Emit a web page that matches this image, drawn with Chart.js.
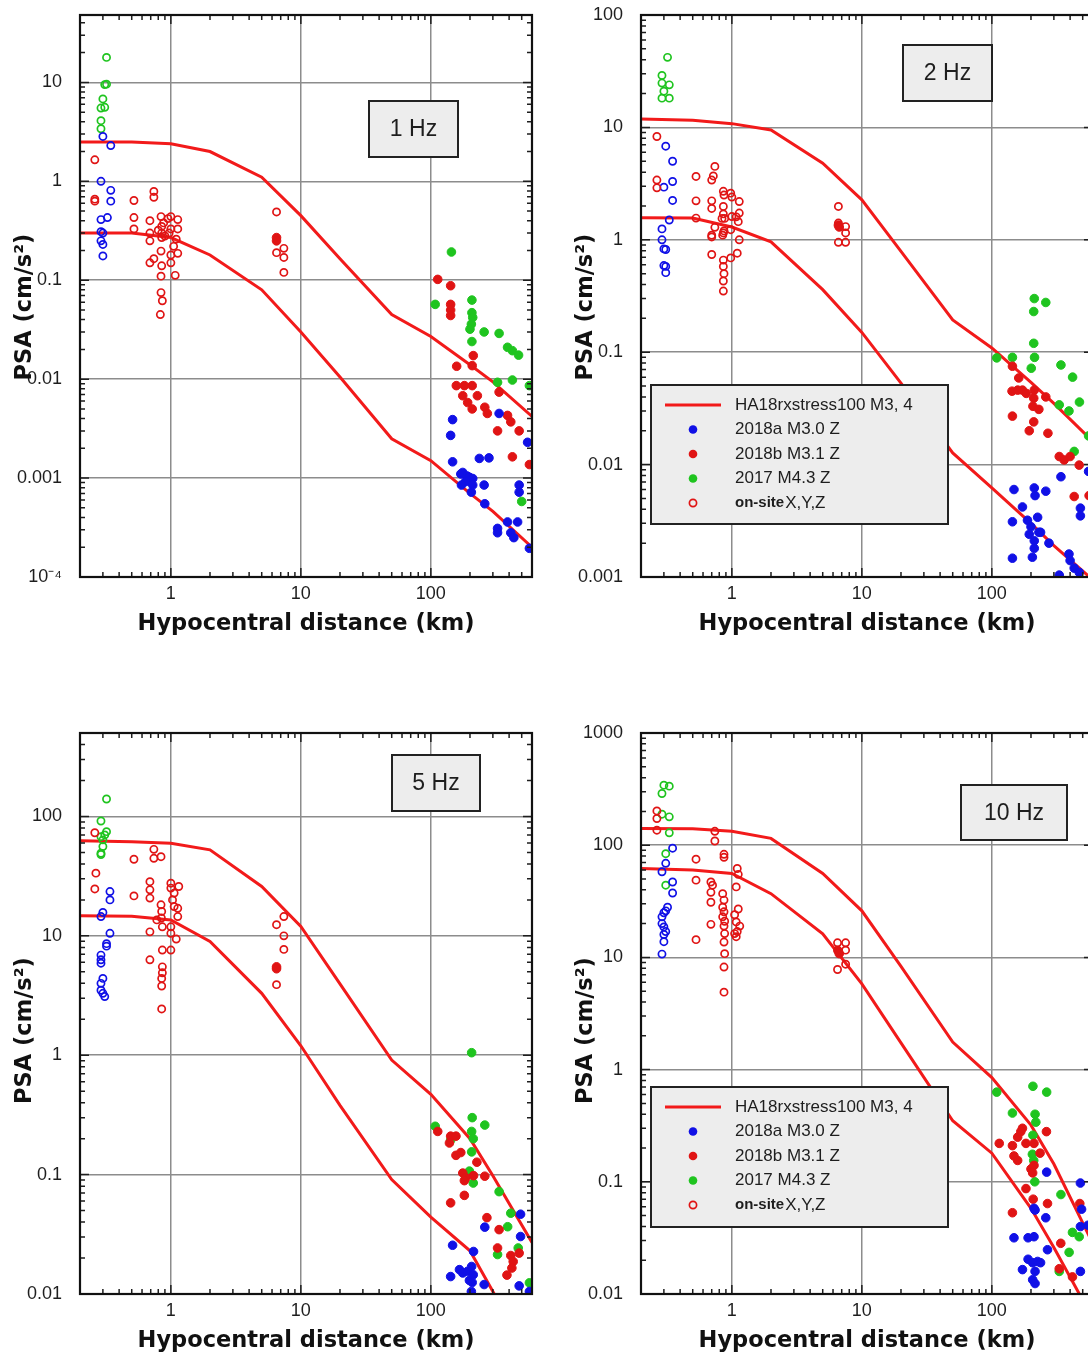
<!DOCTYPE html>
<html>
<head>
<meta charset="utf-8">
<title>PSA vs hypocentral distance</title>
<script src="https://cdn.jsdelivr.net/npm/chart.js@4.4.0/dist/chart.umd.min.js"></script>
<style>
  html, body { margin: 0; padding: 0; background: #fff; width: 1088px; height: 1357px; overflow: hidden; position: relative; }
  canvas { position: absolute; display: block; }
</style>
</head>
<body>
<canvas id="p1Hz" width="560" height="650" style="left:0px;top:0px;width:560px;height:650px"></canvas>
<canvas id="p2Hz" width="560" height="650" style="left:561px;top:0px;width:560px;height:650px"></canvas>
<canvas id="p5Hz" width="560" height="639" style="left:0px;top:718px;width:560px;height:639px"></canvas>
<canvas id="p10Hz" width="560" height="639" style="left:561px;top:718px;width:560px;height:639px"></canvas>
<script>
// ---------- shared axis data ----------
const modelDist = [0.2, 0.5, 1, 2, 5, 10, 20, 50, 100, 200, 300, 600];
const xTickValues = [1, 10, 100];
const xTickLabels = ['1', '10', '100'];

// ---------- 1 Hz ----------
const yTicks1Hz = [1e-4, 1e-3, 1e-2, 1e-1, 1, 10];
const yLabels1Hz = ['10\u207B\u2074', '0.001', '0.01', '0.1', '1', '10'];
const model1HzM4 = [2.5, 2.5, 2.4, 2.0, 1.1, 0.45, 0.165, 0.045, 0.027, 0.014, 0.0094, 0.0042];
const model1HzM3 = [0.3, 0.3, 0.27, 0.18, 0.08, 0.03, 0.0105, 0.0025, 0.0015, 0.0007, 0.00046, 0.0002];
const onsite1HzGreen = [[0.32,17.9],[0.32,9.6],[0.31,9.5],[0.30,6.8],[0.29,5.5],[0.31,5.6],[0.29,4.1],[0.29,3.4]];
const onsite1HzBlue = [[0.30,2.84],[0.345,2.3],[0.29,1.0],[0.345,0.81],[0.345,0.63],[0.325,0.43],[0.29,0.41],[0.29,0.31],[0.30,0.30],[0.29,0.25],[0.30,0.23],[0.30,0.176]];
const onsite1HzRed = [[0.26,1.65],[0.26,0.66],[0.26,0.63],[0.52,0.64],[0.52,0.43],[0.52,0.33],[0.74,0.79],[0.74,0.69],[0.69,0.40],[0.69,0.30],[0.69,0.25],[0.69,0.15],[0.74,0.165],[0.84,0.44],[0.85,0.35],[0.85,0.30],[0.85,0.27],[0.84,0.197],[0.85,0.14],[0.84,0.11],[0.84,0.075],[0.86,0.062],[0.83,0.045],[0.8,0.32],[0.88,0.38],[0.9,0.28],[1.0,0.44],[1.0,0.33],[1.05,0.22],[1.0,0.18],[1.0,0.15],[1.08,0.112],[1.13,0.41],[1.13,0.33],[1.13,0.187],[1.1,0.26],[0.95,0.42],[0.97,0.30],[6.5,0.49],[6.5,0.19],[7.4,0.21],[7.4,0.17],[7.4,0.12]];
const ev2018a1Hz = [[147,0.0039],[142,0.0027],[147,0.00146],[170,0.0011],[176,0.00114],[190,0.00105],[198,0.00102],[210,0.00099],[185,0.00092],[172,0.00085],[210,0.00085],[205,0.00072],[236,0.00158],[280,0.0016],[257,0.00085],[260,0.00055],[335,0.0045],[555,0.0023],[478,0.00085],[478,0.00072],[326,0.00031],[326,0.00028],[389,0.00036],[412,0.00028],[435,0.00025],[465,0.00036],[573,0.000195]];
const ev2018b1Hz = [[6.5,0.27],[6.5,0.25],[113,0.102],[142,0.088],[142,0.057],[142,0.05],[142,0.044],[212,0.0173],[208,0.0137],[158,0.0135],[157,0.0086],[181,0.0086],[208,0.0086],[176,0.0068],[192,0.0058],[208,0.005],[228,0.0068],[260,0.0052],[272,0.0045],[335,0.0074],[389,0.0043],[412,0.0037],[478,0.003],[326,0.003],[424,0.00164],[573,0.00137]];
const ev2017_1Hz = [[144,0.193],[108,0.057],[207,0.063],[207,0.047],[210,0.042],[205,0.036],[200,0.032],[207,0.024],[257,0.030],[335,0.029],[389,0.021],[424,0.0194],[473,0.0175],[326,0.0093],[424,0.0098],[573,0.0086],[500,0.00058]];

// ---------- 2 Hz ----------
const yTicks2Hz = [1e-3, 1e-2, 1e-1, 1, 10, 100];
const yLabels2Hz = ['0.001', '0.01', '0.1', '1', '10', '100'];
const model2HzM4 = [11.9, 11.6, 10.8, 9.5, 4.8, 2.27, 0.79, 0.194, 0.109, 0.054, 0.035, 0.016];
const model2HzM3 = [1.57, 1.56, 1.3, 0.96, 0.36, 0.15, 0.053, 0.0127, 0.0062, 0.003, 0.0019, 0.00094];
const onsite2HzGreen = [[0.32,42],[0.29,29],[0.29,24.8],[0.33,23.9],[0.30,21],[0.29,18.2],[0.33,18.2]];
const onsite2HzBlue = [[0.31,6.8],[0.35,5.0],[0.35,3.3],[0.30,2.94],[0.35,2.24],[0.33,1.5],[0.29,1.25],[0.29,1.0],[0.30,0.83],[0.31,0.82],[0.30,0.59],[0.31,0.58],[0.31,0.51]];
const onsite2HzRed = [[0.265,8.3],[0.265,3.4],[0.265,2.9],[0.53,3.66],[0.53,2.22],[0.53,1.56],[0.74,4.5],[0.72,3.7],[0.70,3.4],[0.70,2.22],[0.70,1.9],[0.70,1.1],[0.70,1.06],[0.70,0.74],[0.74,1.29],[0.86,2.7],[0.87,2.5],[0.86,1.98],[0.86,1.7],[0.88,1.55],[0.84,1.55],[0.86,1.15],[0.87,1.2],[0.85,1.1],[0.86,0.66],[0.86,0.58],[0.87,0.50],[0.86,0.43],[0.86,0.35],[0.98,2.6],[1.0,2.4],[1.0,1.61],[0.98,1.23],[0.98,0.69],[1.08,1.6],[1.14,2.19],[1.14,1.73],[1.12,1.45],[1.14,1.0],[1.1,0.76],[6.6,1.98],[6.6,1.41],[6.6,0.95],[7.5,1.31],[7.5,1.15],[7.5,0.95]];
const ev2018a2Hz = [[148,0.006],[212,0.0062],[215,0.0053],[260,0.0058],[172,0.0042],[144,0.0031],[188,0.0032],[200,0.0028],[225,0.0034],[237,0.0025],[194,0.0024],[212,0.0021],[230,0.0025],[212,0.0018],[275,0.002],[144,0.00147],[205,0.0015],[392,0.0016],[400,0.0014],[430,0.0012],[470,0.0011],[330,0.00104],[340,0.0078],[480,0.0041],[480,0.0035],[555,0.0087]];
const ev2018b2Hz = [[6.6,1.35],[6.7,1.3],[144,0.075],[161,0.059],[143,0.045],[158,0.046],[172,0.046],[184,0.043],[212,0.046],[210,0.039],[260,0.040],[207,0.033],[230,0.031],[144,0.027],[210,0.024],[194,0.020],[270,0.019],[330,0.0118],[360,0.011],[400,0.0118],[470,0.0099],[430,0.0052],[560,0.0053]];
const ev2017_2Hz = [[212,0.30],[260,0.277],[210,0.23],[210,0.12],[213,0.09],[201,0.072],[109,0.089],[144,0.090],[340,0.077],[418,0.06],[472,0.036],[330,0.034],[392,0.030],[430,0.0131],[555,0.018]];

// ---------- 5 Hz ----------
const yTicks5Hz = [0.01, 0.1, 1, 10, 100];
const yLabels5Hz = ['0.01', '0.1', '1', '10', '100'];
const model5HzM4 = [62.7, 61.5, 59.7, 52.5, 25.9, 12, 3.96, 0.91, 0.47, 0.2, 0.098, 0.027];
const model5HzM3 = [14.7, 14.6, 13.6, 8.96, 3.3, 1.2, 0.38, 0.091, 0.044, 0.023, 0.0105, 0.0025];
const onsite5HzGreen = [[0.32,140],[0.29,91.6],[0.32,74.6],[0.29,67.7],[0.30,63.6],[0.31,70],[0.30,56],[0.29,49.2],[0.29,48]];
const onsite5HzBlue = [[0.34,23.5],[0.34,20],[0.30,15.7],[0.29,14.5],[0.34,10.5],[0.32,8.6],[0.32,8.2],[0.29,6.9],[0.29,6.3],[0.29,5.9],[0.30,4.4],[0.29,4.0],[0.29,3.5],[0.30,3.3],[0.31,3.1]];
const onsite5HzRed = [[0.26,73],[0.265,33.5],[0.26,24.7],[0.52,43.8],[0.52,21.6],[0.74,53],[0.74,44.6],[0.84,46],[0.69,28.4],[0.69,24.3],[0.69,20.7],[0.69,10.8],[0.69,6.3],[0.84,18.2],[0.85,16],[0.845,14.1],[0.86,11.9],[0.86,7.6],[1.0,7.6],[0.86,5.5],[0.86,4.9],[0.85,4.4],[0.85,3.8],[0.85,2.44],[0.78,13.6],[1.0,27.6],[1.0,25.1],[1.06,22.8],[1.03,20],[1.06,17.6],[1.15,25.9],[1.13,17],[1.13,14.5],[1.0,11.9],[1.0,10.5],[1.1,9.4],[6.5,12.4],[7.4,14.5],[7.4,10],[7.4,7.7],[6.5,3.9]];
const ev2018a5Hz = [[147,0.0256],[213,0.0227],[260,0.0363],[490,0.0466],[490,0.0303],[142,0.014],[166,0.016],[176,0.015],[192,0.0155],[206,0.017],[212,0.0145],[198,0.013],[208,0.0125],[257,0.012],[205,0.0105],[478,0.0117],[573,0.0105]];
const ev2018b5Hz = [[6.5,5.5],[6.5,5.3],[113,0.23],[142,0.21],[156,0.21],[139,0.184],[156,0.145],[170,0.153],[176,0.103],[186,0.094],[181,0.089],[226,0.127],[213,0.098],[260,0.097],[142,0.058],[181,0.067],[270,0.0436],[335,0.0346],[326,0.0243],[412,0.021],[430,0.0187],[420,0.0165],[478,0.022],[385,0.0144]];
const ev2017_5Hz = [[206,1.05],[108,0.254],[208,0.30],[260,0.26],[206,0.23],[212,0.20],[142,0.195],[206,0.155],[198,0.107],[212,0.085],[335,0.072],[412,0.0475],[390,0.0366],[470,0.0243],[326,0.0214],[573,0.0124]];

// ---------- 10 Hz ----------
const yTicks10Hz = [0.01, 0.1, 1, 10, 100, 1000];
const yLabels10Hz = ['0.01', '0.1', '1', '10', '100', '1000'];
const model10HzM4 = [141, 140, 133, 115, 56, 26, 8.3, 1.76, 0.85, 0.32, 0.144, 0.028];
const model10HzM3 = [62, 60, 56, 37, 16.2, 5.8, 1.73, 0.35, 0.18, 0.058, 0.026, 0.006];
const onsite10HzGreen = [[0.30,343],[0.33,336],[0.29,289],[0.29,189],[0.33,179],[0.33,129],[0.31,84],[0.31,44]];
const onsite10HzBlue = [[0.35,94],[0.31,69],[0.29,58],[0.35,47],[0.35,37.5],[0.32,28],[0.31,26],[0.30,25],[0.29,23],[0.29,20],[0.30,18.7],[0.31,17],[0.30,16],[0.30,13.8],[0.29,10.7]];
const onsite10HzRed = [[0.265,202],[0.265,173],[0.265,136],[0.53,75],[0.53,48.8],[0.53,14.4],[0.74,133],[0.74,109],[0.87,83],[0.87,78],[0.69,47],[0.71,44],[0.69,38],[0.69,31],[0.69,19.7],[0.85,37],[0.87,32.4],[0.85,28],[0.87,25.5],[0.85,23],[0.88,21],[0.87,19],[0.88,16.3],[0.87,13.7],[0.88,10.8],[0.87,8.2],[0.87,4.9],[1.1,62],[1.12,55],[1.08,42.5],[1.12,27],[1.05,24],[1.08,20.7],[1.15,19],[1.1,17],[1.05,16.3],[1.08,15.3],[6.5,13.5],[7.5,13.5],[6.5,11.6],[7.5,11.6],[6.5,7.8],[7.5,8.7]];
const ev2018a10Hz = [[264,0.122],[211,0.058],[215,0.056],[260,0.0478],[480,0.0975],[490,0.057],[480,0.0399],[550,0.041],[148,0.0317],[190,0.0317],[211,0.0324],[268,0.0248],[172,0.0165],[190,0.0204],[206,0.019],[225,0.0195],[237,0.019],[215,0.0159],[206,0.0134],[215,0.0124],[480,0.0159]];
const ev2018b10Hz = [[6.6,11.4],[6.7,10.8],[114,0.22],[144,0.21],[158,0.25],[172,0.30],[183,0.22],[167,0.28],[148,0.17],[158,0.155],[211,0.22],[235,0.18],[263,0.28],[200,0.13],[211,0.14],[206,0.12],[183,0.087],[208,0.07],[268,0.064],[144,0.053],[475,0.064],[339,0.0283],[330,0.0168],[417,0.0142]];
const ev2017_10Hz = [[109,0.63],[207,0.71],[264,0.63],[144,0.41],[215,0.40],[218,0.34],[207,0.26],[205,0.176],[210,0.155],[214,0.10],[340,0.077],[417,0.0354],[470,0.0324],[393,0.0235],[330,0.0159]];

// ---------- styling ----------
const BLUE = '#1010e6';
const RED = '#e01414';
const GREEN = '#1fc41f';
const LINE_RED = '#f21a1a';
const GRID = '#8c8c8c';
const INK = '#1e1e1e';
const TICK_FONT = '"Liberation Sans", Arial, sans-serif';
const TITLE_FONT = 'bold 22.5px "DejaVu Sans", Verdana, sans-serif';

Chart.defaults.font.family = TICK_FONT;
Chart.defaults.color = INK;

function toPoints(arr) { return arr.map(([d, v]) => ({ x: d, y: v })); }
function toCurve(vals) { return modelDist.map((d, i) => ({ x: d, y: vals[i] })); }

function modelSet(label, vals) {
  return { type: 'scatter', label, data: toCurve(vals), showLine: true, borderColor: LINE_RED,
           backgroundColor: LINE_RED, borderWidth: 3, pointRadius: 0, pointHoverRadius: 0, order: 10 };
}
function filledSet(label, arr, color, order) {
  return { type: 'scatter', label, data: toPoints(arr), pointStyle: 'circle', pointRadius: 4.3,
           pointBorderWidth: 1, borderColor: color, backgroundColor: color, order };
}
function openSet(label, arr, color, order) {
  return { type: 'scatter', label, data: toPoints(arr), pointStyle: 'circle', pointRadius: 3.6,
           pointBorderWidth: 1.7, borderColor: color, backgroundColor: 'rgba(255,255,255,0)', order };
}

// frame, inward tick marks, panel label, legend and axis titles
const panelDecor = {
  id: 'panelDecor',
  afterDatasetsDraw(chart, args, o) {
    const ctx = chart.ctx;
    const a = chart.chartArea;
    const xs = chart.scales.x, ys = chart.scales.y;
    ctx.save();

    // inward tick marks on all four sides
    ctx.strokeStyle = INK;
    ctx.lineWidth = 1.5;
    const marks = (scale, cb) => {
      const lo = Math.floor(Math.log10(scale.min)), hi = Math.ceil(Math.log10(scale.max));
      for (let e = lo; e <= hi; e++) {
        for (let m = 1; m <= 9; m++) {
          const v = m * Math.pow(10, e);
          if (v < scale.min * 0.999 || v > scale.max * 1.001) continue;
          cb(scale.getPixelForValue(v), m === 1 ? 9 : 5);
        }
      }
    };
    ctx.beginPath();
    marks(xs, (px, len) => {
      ctx.moveTo(px, a.bottom); ctx.lineTo(px, a.bottom - len);
      ctx.moveTo(px, a.top); ctx.lineTo(px, a.top + len);
    });
    marks(ys, (py, len) => {
      ctx.moveTo(a.left, py); ctx.lineTo(a.left + len, py);
      ctx.moveTo(a.right, py); ctx.lineTo(a.right - len, py);
    });
    ctx.stroke();

    // plot frame
    ctx.lineWidth = 2.2;
    ctx.strokeStyle = '#111';
    ctx.strokeRect(a.left, a.top, a.right - a.left, a.bottom - a.top);

    // frequency label box
    const f = o.freqBox;
    const fx = a.left + f.dx, fy = a.top + f.dy;
    ctx.fillStyle = '#ededed';
    ctx.fillRect(fx, fy, f.w, f.h);
    ctx.lineWidth = 2;
    ctx.strokeStyle = '#222';
    ctx.strokeRect(fx, fy, f.w, f.h);
    ctx.fillStyle = INK;
    ctx.font = '23px ' + TICK_FONT;
    ctx.textAlign = 'center';
    ctx.textBaseline = 'middle';
    ctx.fillText(o.freqText, fx + f.w / 2, fy + f.h / 2 + 1);

    // legend
    if (o.legendBox) {
      const L = o.legendBox;
      const lx = a.left + L.dx, ly = a.top + L.dy;
      ctx.fillStyle = '#ededed';
      ctx.fillRect(lx, ly, L.w, L.h);
      ctx.lineWidth = 2;
      ctx.strokeStyle = '#222';
      ctx.strokeRect(lx, ly, L.w, L.h);
      const rowY = [20, 44.5, 69, 93.5, 118];
      const textX = lx + 84, markX = lx + 42;
      ctx.textAlign = 'left';
      ctx.textBaseline = 'middle';
      // model curve sample
      ctx.strokeStyle = LINE_RED; ctx.lineWidth = 3;
      ctx.beginPath(); ctx.moveTo(lx + 14, ly + rowY[0]); ctx.lineTo(lx + 70, ly + rowY[0]); ctx.stroke();
      const filled = [BLUE, RED, GREEN];
      filled.forEach((c, i) => {
        ctx.fillStyle = c;
        ctx.beginPath(); ctx.arc(markX, ly + rowY[i + 1], 4.3, 0, Math.PI * 2); ctx.fill();
      });
      ctx.strokeStyle = RED; ctx.lineWidth = 1.7;
      ctx.beginPath(); ctx.arc(markX, ly + rowY[4], 3.6, 0, Math.PI * 2); ctx.stroke();
      ctx.fillStyle = INK;
      ctx.font = '17px ' + TICK_FONT;
      o.legendText.slice(0, 4).forEach((t, i) => ctx.fillText(t, textX, ly + rowY[i]));
      ctx.font = 'bold 15px ' + TICK_FONT;
      ctx.fillText(o.legendText[4], textX, ly + rowY[4]);
      const w = ctx.measureText(o.legendText[4]).width;
      ctx.font = '17px ' + TICK_FONT;
      ctx.fillText(o.legendText[5], textX + w + 1, ly + rowY[4]);
    }

    // axis titles
    ctx.fillStyle = '#111';
    ctx.font = TITLE_FONT;
    ctx.textAlign = 'center';
    ctx.textBaseline = 'middle';
    ctx.fillText(o.xTitle, (a.left + a.right) / 2, a.bottom + 47);
    ctx.translate(a.left - 55, (a.top + a.bottom) / 2 + o.yTitleShift);
    ctx.rotate(-Math.PI / 2);
    ctx.fillText(o.yTitle, 0, 0);
    ctx.restore();
  }
};

const legendLabels = ['HA18rxstress100 M3, 4', '2018a M3.0 Z', '2018b M3.1 Z', '2017 M4.3 Z', 'on-site', 'X,Y,Z'];

function makePanel(p) {
  const canvas = document.getElementById(p.id);
  const H = canvas.height;
  new Chart(canvas, {
    type: 'scatter',
    data: {
      datasets: [
        filledSet('2018a M3.0 Z', p.evA, BLUE, 1),
        filledSet('2018b M3.1 Z', p.evB, RED, 2),
        filledSet('2017 M4.3 Z', p.ev17, GREEN, 3),
        openSet('on-site X,Y,Z', p.onRed, RED, 4),
        openSet('on-site X,Y,Z (2018a)', p.onBlue, BLUE, 5),
        openSet('on-site X,Y,Z (2017)', p.onGreen, GREEN, 6),
        modelSet('HA18rxstress100 M4', p.m4),
        modelSet('HA18rxstress100 M3', p.m3)
      ]
    },
    options: {
      responsive: false,
      animation: false,
      devicePixelRatio: 1,
      layout: { padding: { top: p.padTop, right: p.padRight, left: 0, bottom: 0 } },
      plugins: {
        legend: { display: false },
        tooltip: { enabled: false },
        panelDecor: {
          freqText: p.freqText, freqBox: p.freqBox, legendBox: p.legendBox,
          legendText: legendLabels, xTitle: 'Hypocentral distance (km)', yTitle: 'PSA (cm/s\u00B2)',
          yTitleShift: p.yTitleShift
        }
      },
      scales: {
        x: {
          type: 'logarithmic', position: 'bottom', min: 0.2, max: 600,
          afterBuildTicks: s => { s.ticks = xTickValues.map(v => ({ value: v })); },
          afterFit: s => { s.height = H - p.areaBottom; s.paddingLeft = 0; s.paddingRight = 0; },
          ticks: { autoSkip: false, maxRotation: 0, padding: 6, font: { size: 18 }, color: INK,
                   callback: (v, i) => xTickLabels[i] },
          grid: { color: GRID, lineWidth: 1.5, drawTicks: false },
          border: { display: false }
        },
        y: {
          type: 'logarithmic', position: 'left', min: p.yMin, max: p.yMax,
          afterBuildTicks: s => { s.ticks = p.yTicks.map(v => ({ value: v })); },
          afterFit: s => { s.width = 80; s.paddingTop = 0; s.paddingBottom = 0; },
          ticks: { autoSkip: false, padding: 18, font: { size: 18 }, color: INK,
                   callback: (v, i) => p.yLabels[i] },
          grid: { color: GRID, lineWidth: 1.5, drawTicks: false },
          border: { display: false }
        }
      }
    },
    plugins: [panelDecor]
  });
}

makePanel({ id: 'p1Hz', padTop: 15, padRight: 28, areaBottom: 577, yMin: 1e-4, yMax: 48,
  yTicks: yTicks1Hz, yLabels: yLabels1Hz, m4: model1HzM4, m3: model1HzM3,
  evA: ev2018a1Hz, evB: ev2018b1Hz, ev17: ev2017_1Hz, onRed: onsite1HzRed, onBlue: onsite1HzBlue, onGreen: onsite1HzGreen,
  freqText: '1 Hz', freqBox: { dx: 289, dy: 86, w: 89, h: 56 }, legendBox: null, yTitleShift: 11 });

makePanel({ id: 'p2Hz', padTop: 15, padRight: 28, areaBottom: 577, yMin: 1e-3, yMax: 100,
  yTicks: yTicks2Hz, yLabels: yLabels2Hz, m4: model2HzM4, m3: model2HzM3,
  evA: ev2018a2Hz, evB: ev2018b2Hz, ev17: ev2017_2Hz, onRed: onsite2HzRed, onBlue: onsite2HzBlue, onGreen: onsite2HzGreen,
  freqText: '2 Hz', freqBox: { dx: 262, dy: 30, w: 89, h: 56 }, legendBox: { dx: 10, dy: 370, w: 297, h: 139 }, yTitleShift: 11 });

makePanel({ id: 'p5Hz', padTop: 15, padRight: 28, areaBottom: 576, yMin: 0.01, yMax: 500,
  yTicks: yTicks5Hz, yLabels: yLabels5Hz, m4: model5HzM4, m3: model5HzM3,
  evA: ev2018a5Hz, evB: ev2018b5Hz, ev17: ev2017_5Hz, onRed: onsite5HzRed, onBlue: onsite5HzBlue, onGreen: onsite5HzGreen,
  freqText: '5 Hz', freqBox: { dx: 312, dy: 22, w: 88, h: 56 }, legendBox: null, yTitleShift: 17 });

makePanel({ id: 'p10Hz', padTop: 15, padRight: 28, areaBottom: 576, yMin: 0.01, yMax: 1000,
  yTicks: yTicks10Hz, yLabels: yLabels10Hz, m4: model10HzM4, m3: model10HzM3,
  evA: ev2018a10Hz, evB: ev2018b10Hz, ev17: ev2017_10Hz, onRed: onsite10HzRed, onBlue: onsite10HzBlue, onGreen: onsite10HzGreen,
  freqText: '10 Hz', freqBox: { dx: 320, dy: 52, w: 106, h: 55 }, legendBox: { dx: 10, dy: 354, w: 297, h: 140 }, yTitleShift: 17 });
</script>
</body>
</html>
